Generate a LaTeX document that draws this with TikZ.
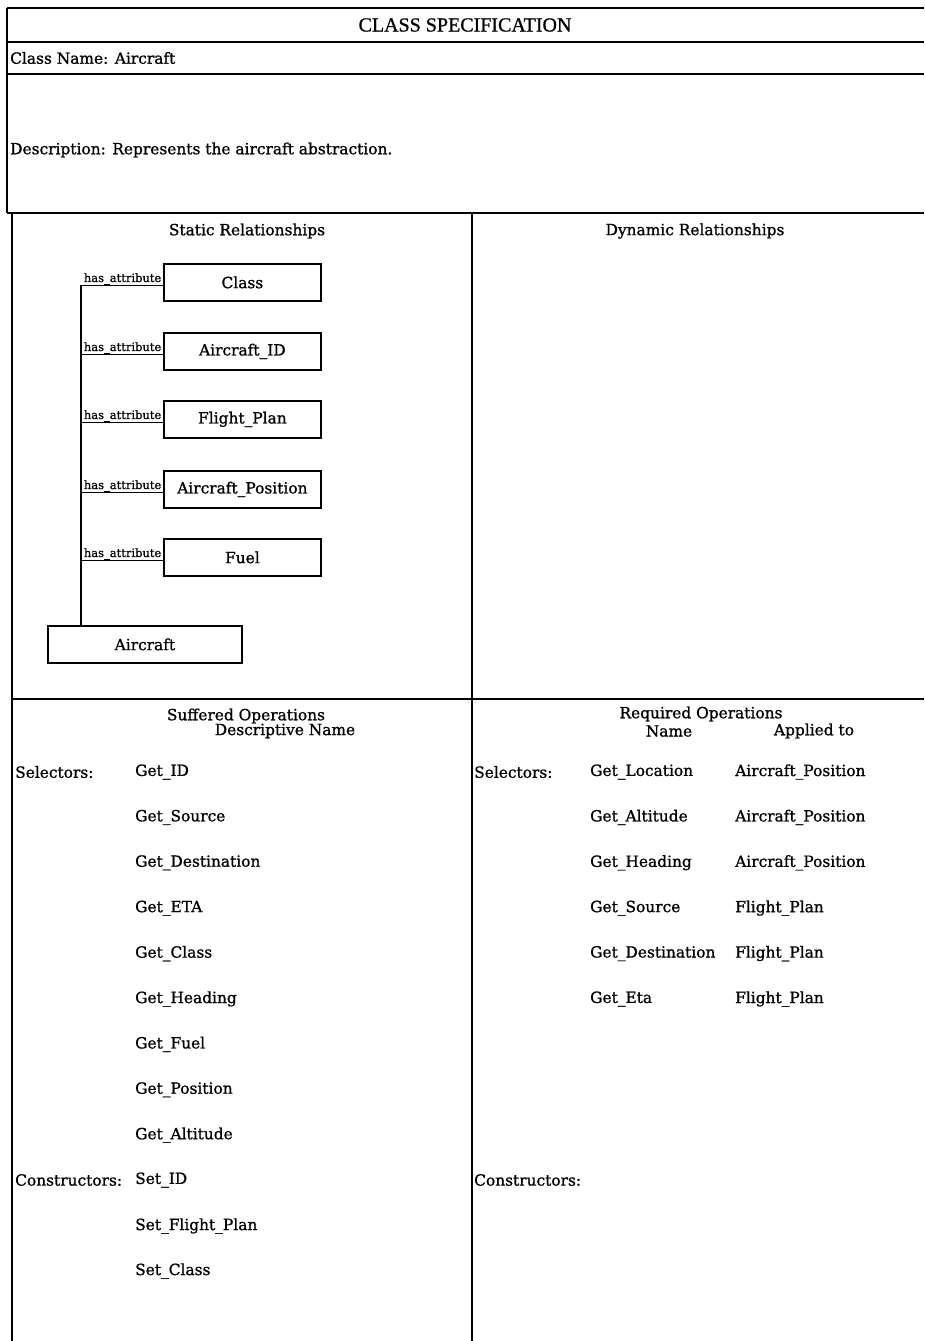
\documentclass[tikz,border=0pt]{standalone}
\usepackage{fontspec}
\newfontfamily\bodyfont{DejaVu Serif}[FakeBold=1]
\newfontfamily\titlefont{Liberation Serif}[FakeBold=0.8]
\begin{document}
\begin{tikzpicture}[x=1pt,y=-1pt,
  frame/.style={line width=2.8pt},
  txt/.style={font=\bodyfont\fontsize{15.4}{15.4}\selectfont, inner sep=0pt},
  lefttxt/.style={txt, anchor=west},
  head/.style={txt, anchor=center},
  attrbox/.style={draw, line width=1.8pt, minimum width=157pt, minimum height=37pt,
    inner sep=0pt, font=\bodyfont\fontsize{15.4}{15.4}\selectfont, anchor=north west},
  link/.style={line width=1.6pt},
  attrlbl/.style={font=\bodyfont\fontsize{11.5}{11.5}\selectfont, inner sep=0.5pt, anchor=south east}]

\useasboundingbox (0,0) rectangle (924,1341);

% form outline and rules
\draw[frame] (7,8) -- (924,8);
\draw[frame] (7,42) -- (924,42);
\draw[frame] (7,74) -- (924,74);
\draw[frame] (7,213) -- (924,213);
\draw[frame] (12,699) -- (924,699);
\draw[frame] (7,8) -- (7,213);
\draw[frame] (12,213) -- (12,1341);
\draw[frame] (472,213) -- (472,1341);

% header
\node[head, font=\titlefont\fontsize{20}{20}\selectfont] (title) at (465,25) {CLASS SPECIFICATION};
\node[lefttxt] (cname) at (10,58) {Class Name: Aircraft};
\node[lefttxt] (descr) at (10,150) {Description: Represents the aircraft abstraction.};

% section headings
\node[head] (static) at (247,231) {Static Relationships};
\node[head] (dynamic) at (695,231) {Dynamic Relationships};

% static relationship diagram
\node[attrbox] (cls) at (163,263) {Class};
\node[attrbox] (aid) at (163,332) {Aircraft\_ID};
\node[attrbox] (fpl) at (163,400) {Flight\_Plan};
\node[attrbox] (apos) at (163,470) {Aircraft\_Position};
\node[attrbox] (fuel) at (163,538) {Fuel};
\node[draw, line width=1.8pt, minimum width=194pt, minimum height=37pt, inner sep=0pt,
  font=\bodyfont\fontsize{15.4}{15.4}\selectfont, anchor=north west] (ac) at (47,625) {Aircraft};

\coordinate (trunk) at (81,625);
\foreach \b/\l in {cls/l1, aid/l2, fpl/l3, apos/l4, fuel/l5}{
  \draw[link] (trunk) |- ([yshift=-3pt]\b.west);
  \node[attrlbl] (\l) at ([xshift=-1pt,yshift=-3pt]\b.west) {has\_attribute};
}

% suffered operations
\node[head] (suf) at (246,716) {Suffered Operations};
\node[head] (sufdn) at (285,731) {Descriptive Name};
\node[lefttxt] (ssel) at (15,772) {Selectors:};
\foreach \t [count=\i from 0] in {Get\_ID, Get\_Source, Get\_Destination, Get\_ETA,
    Get\_Class, Get\_Heading, Get\_Fuel, Get\_Position, Get\_Altitude}{
  \node[lefttxt] (s\i) at (135,{772+45.4*\i}) {\t};
}
\node[lefttxt] (scon) at (15,1180) {Constructors:};
\node[lefttxt] (c0) at (135,1180) {Set\_ID};
\node[lefttxt] (c1) at (135,1226) {Set\_Flight\_Plan};
\node[lefttxt] (c2) at (135,1271) {Set\_Class};

% required operations
\node[head] (req) at (701,714) {Required Operations};
\node[head] (reqn) at (669,731) {Name};
\node[head] (reqa) at (814,731) {Applied to};
\node[lefttxt] (rsel) at (474,772) {Selectors:};
\foreach \n/\a [count=\i from 0] in {Get\_Location/Aircraft\_Position,
    Get\_Altitude/Aircraft\_Position, Get\_Heading/Aircraft\_Position,
    Get\_Source/Flight\_Plan, Get\_Destination/Flight\_Plan, Get\_Eta/Flight\_Plan}{
  \node[lefttxt] (rn\i) at (590,{772+45.4*\i}) {\n};
  \node[lefttxt] (ra\i) at (735,{772+45.4*\i}) {\a};
}
\node[lefttxt] (rcon) at (474,1180) {Constructors:};

\end{tikzpicture}
\end{document}
